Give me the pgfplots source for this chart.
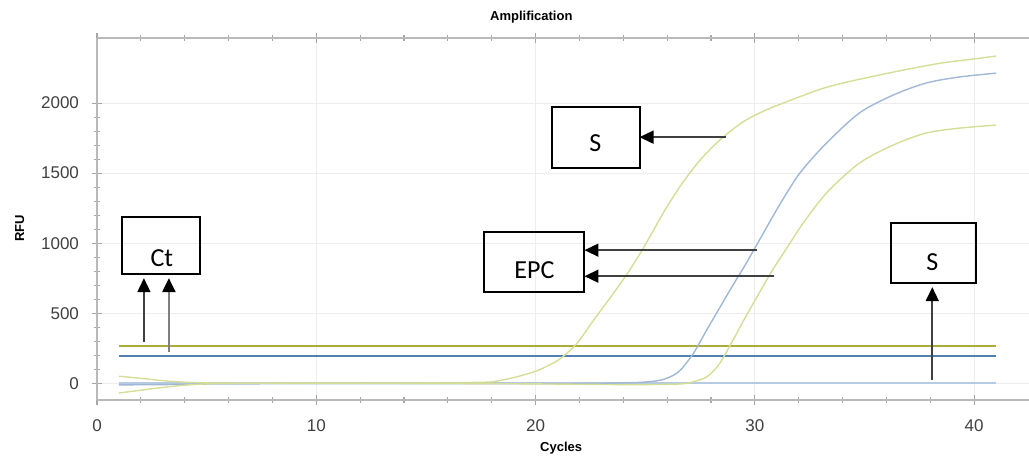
\documentclass[border=0pt]{standalone}
\usepackage{fontspec}
\setmainfont{Liberation Sans}
\newfontfamily\boxfont{Carlito}
\usepackage{pgfplots}
\pgfplotsset{compat=1.18}
\usetikzlibrary{arrows.meta}

\definecolor{curveY}{RGB}{214,221,150}
\definecolor{curveB}{RGB}{160,183,214}
\definecolor{flatB}{RGB}{180,203,226}
\definecolor{thrY}{RGB}{170,172,60}
\definecolor{thrB}{RGB}{80,128,176}

\begin{document}
\begin{tikzpicture}
\path[use as bounding box] (-48.5pt,-28.5pt) rectangle (466pt,200pt);
\begin{axis}[
    scale only axis,
    width=466pt,
    height=181pt,
    xmin=0, xmax=42.5,
    ymin=-120, ymax=2465,
    xtick={0,10,20,30,40},
    ytick={0,500,1000,1500,2000},
    minor x tick num=4,
    minor y tick num=4,
    axis x line*=box,
    axis y line*=left,
    tick align=center,
    major tick length=5pt,
    minor tick length=3pt,
    grid=major,
    major grid style={gray!14, line width=0.5pt},
    axis line style={gray!55, line width=1pt},
    tick style={gray!70, line width=0.6pt},
    ticklabel style={font=\fontsize{8.5}{10}\selectfont, text=black!75},
    xticklabel style={yshift=-4pt},
    yticklabel style={xshift=-3pt},
    /pgf/number format/assume math mode=true,
    /pgf/number format/1000 sep={},
    every axis title shift=0pt,
    title={\bfseries Amplification},
    title style={at={(axis description cs:0.466,1.058)}, anchor=center, font=\fontsize{6.5}{8}\selectfont},
    xlabel={\bfseries Cycles},
    xlabel style={at={(axis description cs:0.498,0)}, anchor=center, yshift=-24pt, font=\fontsize{6.5}{8}\selectfont},
    ylabel={\bfseries RFU},
    ylabel style={at={(axis description cs:-0.083,0.475)}, anchor=center, font=\fontsize{6.5}{8}\selectfont},
]

% threshold lines
\addplot[thrY, line width=1pt] coordinates {(1,264) (41,264)};
\addplot[thrB, line width=1pt] coordinates {(1,195) (41,195)};

% negative (flat)
\addplot[flatB, line width=0.8pt] coordinates {(1,0) (41,0)};

% sample S (early yellow)
\addplot[curveY, line width=0.7pt, smooth] coordinates {
(1,50) (2,35) (3,18) (4,7) (5,2) (6,0) (8,0) (10,0) (12,0) (14,1) (16,3)
(17,5) (18,10) (19,40) (20,85) (20.5,120) (21.1,172) (21.86,280) (22.6,440)
(23.4,610) (24.15,775) (24.8,935) (25.35,1085) (25.97,1255) (26.7,1430)
(27.5,1593) (28.4,1736) (29.46,1866) (30.5,1950) (31.7,2025) (33,2100)
(34,2143) (35.2,2185) (36.3,2221) (37.4,2255) (38.5,2286) (39.8,2312) (41,2336)
};

% EPC (blue)
\addplot[curveB, line width=0.7pt, smooth] coordinates {
(1,-12) (3,-10) (5,-6) (8,-4) (12,-3) (16,-3) (20,-3) (22,-2) (24,2) (25,8)
(25.7,22) (26.2,50) (26.6,93) (27.2,214) (27.8,379) (28.4,540) (29.0,700)
(29.6,855) (30.2,1020) (31.0,1240) (31.7,1420) (32.2,1530) (33.26,1714)
(34.76,1929) (36.3,2057) (37.8,2143) (39.3,2186) (41,2214)
};

% EPC (yellow)
\addplot[curveY, line width=0.7pt, smooth] coordinates {
(1,-70) (2,-50) (3,-30) (4,-14) (5,-5) (6,-1) (8,0) (12,0) (16,-2) (20,-5)
(24,-10) (26,-8) (26.9,0) (27.8,45) (28.4,143) (29.0,307) (29.6,480)
(30.2,645) (30.8,807) (31.6,1000) (32.2,1143) (33.26,1357) (34.76,1571)
(36.3,1700) (37.8,1786) (39.3,1821) (41,1843)
};

% annotations
\tikzset{lbl/.style={font=\boxfont\fontsize{13}{15}\selectfont},
         arr/.style={black!75, line width=0.8pt, -{Triangle[width=6.5pt,length=7pt,color=black]}}}
\draw[line width=1pt] (axis cs:1.14,1186) rectangle (axis cs:4.69,779);
\node[lbl] at (axis cs:2.96,890) {Ct};
\draw[arr] (axis cs:2.14,293) -- (axis cs:2.14,750);
\draw[arr, gray, line width=1.3pt] (axis cs:3.28,221) -- (axis cs:3.28,750);

\draw[line width=1pt] (axis cs:20.77,1971) rectangle (axis cs:24.74,1536);
\node[lbl] at (axis cs:22.73,1714) {S};
\draw[arr] (axis cs:28.7,1757) -- (axis cs:24.74,1757);

\draw[line width=1pt] (axis cs:17.63,1079) rectangle (axis cs:22.23,650);
\node[lbl] at (axis cs:19.95,807) {EPC};
\draw[arr] (axis cs:30.11,950) -- (axis cs:22.23,950);
\draw[arr] (axis cs:30.89,764) -- (axis cs:22.23,764);

\draw[line width=1pt] (axis cs:36.22,1143) rectangle (axis cs:40.09,714);
\node[lbl] at (axis cs:38.09,864) {S};
\draw[arr] (axis cs:38.09,21) -- (axis cs:38.09,686);

\end{axis}
\end{tikzpicture}
\end{document}
